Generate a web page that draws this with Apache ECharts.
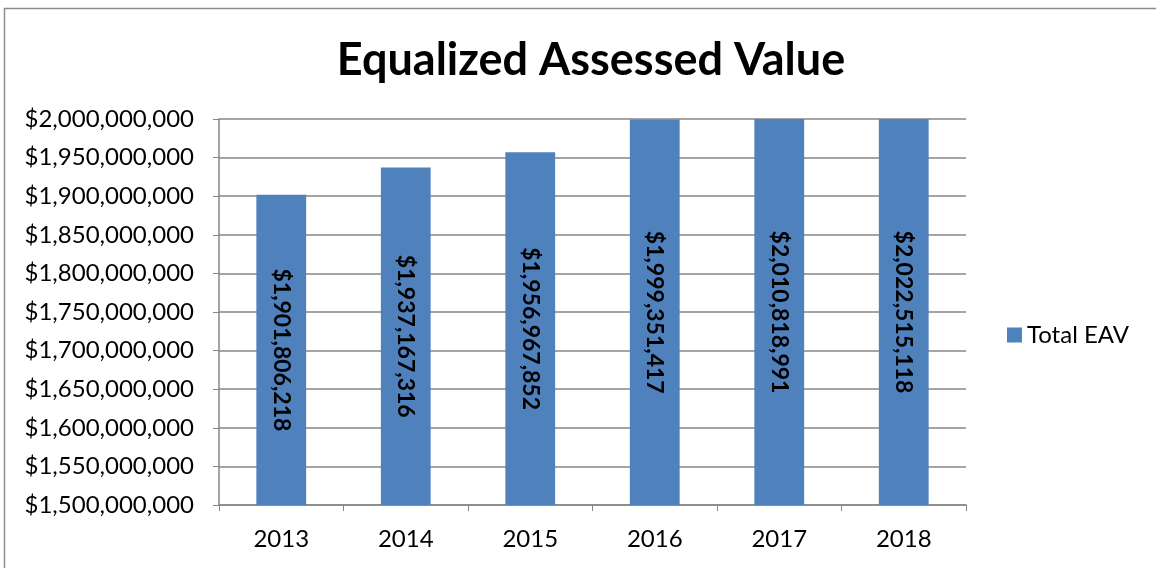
<!DOCTYPE html>
<html>
<head>
    <meta charset="utf-8">
    <title>Equalized Assessed Value</title>
    <script src="https://cdn.jsdelivr.net/npm/echarts@6/dist/echarts.min.js"></script>
    <style>
        body { margin: 0; background: #fff; }
    </style>
</head>
<body>
<div id="main" style="width: 1156px;height:568px;"></div>
<script type="text/javascript">
    var myChart = echarts.init(document.getElementById('main'));

    var years = ['2013', '2014', '2015', '2016', '2017', '2018'];
    var totalEAV = [1901806218, 1937167316, 1956967852, 1999351417, 2010818991, 2022515118];

    function money(v) {
        return '$' + String(v).replace(/\B(?=(\d{3})+(?!\d))/g, ',');
    }

    var font = 'Lato, "Open Sans", sans-serif';

    option = {
        backgroundColor: '#fff',
        textStyle: { fontFamily: font },
        animation: false,
        graphic: [{
            type: 'rect',
            shape: { x: 4.5, y: 8.5, width: 1160, height: 570 },
            style: { fill: 'none', stroke: '#8c8c8c', lineWidth: 1.5 }
        }],
        title: {
            text: 'Equalized Assessed Value',
            left: 586,
            top: 33,
            textAlign: 'center',
            textStyle: { fontFamily: font, fontSize: 45, fontWeight: 'bold', color: '#000' }
        },
        legend: {
            right: 22,
            top: 318,
            icon: 'rect',
            itemWidth: 15,
            itemHeight: 15,
            itemGap: 6,
            textStyle: { fontFamily: font, fontSize: 24, color: '#000' },
            data: ['Total EAV']
        },
        grid: { left: 219, right: 190, top: 119, bottom: 63 },
        xAxis: {
            type: 'category',
            data: years,
            axisLine: { lineStyle: { color: '#868686', width: 1.5 } },
            axisTick: { show: true, length: 6, lineStyle: { color: '#868686' } },
            axisLabel: { fontFamily: font, fontSize: 24, color: '#000', margin: 22 }
        },
        yAxis: {
            type: 'value',
            min: 1500000000,
            max: 2000000000,
            interval: 50000000,
            axisLine: { show: true, lineStyle: { color: '#868686', width: 1.5 } },
            axisTick: { show: true, length: 6, lineStyle: { color: '#868686' } },
            splitLine: { lineStyle: { color: '#868686', width: 1.5 } },
            axisLabel: {
                fontFamily: font, fontSize: 24, color: '#000', margin: 25,
                formatter: function (v) { return money(v); }
            }
        },
        series: [{
            name: 'Total EAV',
            type: 'bar',
            barWidth: '40%',
            clip: true,
            itemStyle: { color: '#4f81bd' },
            label: {
                show: true,
                position: 'inside',
                rotate: -90,
                fontFamily: font,
                fontSize: 23,
                fontWeight: 'bold',
                color: '#000',
                formatter: function (p) { return money(p.value); }
            },
            data: totalEAV
        }]
    };

    myChart.setOption(option);
</script>
</body>
</html>
